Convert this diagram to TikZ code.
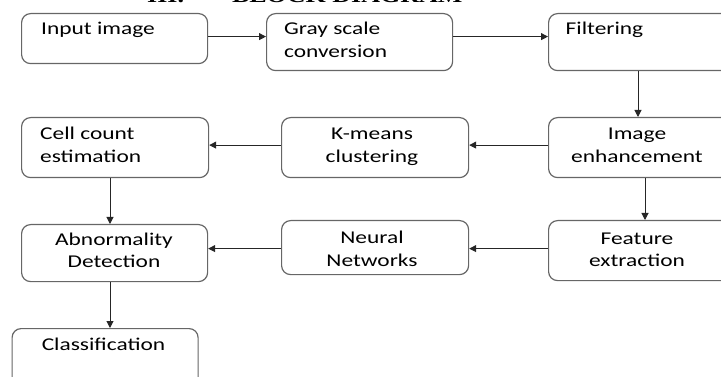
\documentclass[tikz,border=0pt]{standalone}
\usepackage{fontspec}
\setmainfont{Carlito}[FakeStretch=1.3]
\newfontfamily\headfont{Liberation Serif}[FakeStretch=1.3]
\usetikzlibrary{arrows.meta}

\begin{document}
\begin{tikzpicture}
  [x=1pt, y=-1pt,
  blk/.style={draw=black!60, line width=1.2pt, rounded corners=9pt, anchor=north west, inner sep=0pt},
  txt/.style={font=\fontsize{18}{22.5}\selectfont, inner sep=0pt},
  link/.style={black!85, line width=1pt, -{Triangle[length=7pt,width=7pt]}}]

  \useasboundingbox (0,0) rectangle (721,377);
  \clip (0,0) rectangle (721,377);

  % Heading, cut off at the top
  \node[font=\headfont\bfseries\fontsize{20}{24}\selectfont, anchor=base west, inner sep=0pt] (head) at (147,2.5) {III.\hspace{48pt}BLOCK DIAGRAM};

  % Blocks
  \node[blk, minimum width=186pt, minimum height=50pt] (inp) at (21,13) {};
  \node[blk, minimum width=186pt, minimum height=57pt] (gray) at (266,13) {};
  \node[blk, minimum width=230pt, minimum height=57pt] (filt) at (548,13) {};
  \node[blk, minimum width=187pt, minimum height=60pt] (cell) at (21,117) {};
  \node[blk, minimum width=187pt, minimum height=60pt] (kmeans) at (281,117) {};
  \node[blk, minimum width=230pt, minimum height=60pt] (enh) at (548,117) {};
  \node[blk, minimum width=186pt, minimum height=57pt] (abn) at (21,224) {};
  \node[blk, minimum width=187pt, minimum height=54pt] (neur) at (281,220) {};
  \node[blk, minimum width=230pt, minimum height=60pt] (feat) at (548,220) {};
  \node[blk, minimum width=186pt, minimum height=80pt] (cls) at (11.5,328) {};

  % Labels (base of two-line labels is the second line)
  \node[txt, anchor=base west] (inptxt) at (41,35) {Input image};
  \node[txt, anchor=base west, align=left] (graytxt) at (284,57.5) {Gray scale\\conversion};
  \node[txt, anchor=base west] (filttxt) at (565.5,35) {Filtering};
  \node[txt, anchor=base west, align=left] (celltxt) at (40,162.5) {Cell count\\estimation};
  \node[txt, anchor=base, align=center] (kmeanstxt) at (372,162.5) {K-means\\clustering};
  \node[txt, anchor=base, align=center] (enhtxt) at (637,162.5) {Image\\enhancement};
  \node[txt, anchor=base, align=center] (abntxt) at (114,267.5) {Abnormality\\Detection};
  \node[txt, anchor=base, align=center] (neurtxt) at (372,266) {Neural\\Networks};
  \node[txt, anchor=base, align=center] (feattxt) at (637,266.5) {Feature\\extraction};
  \node[txt, anchor=base] (clstxt) at (103.5,350) {Classification};

  % Connectors
  \draw[link] ([yshift=2pt]inp.east) -- ([yshift=2pt]inp.east -| gray.west);
  \draw[link] ([yshift=5.5pt]gray.east) -- ([yshift=5.5pt]gray.east -| filt.west);
  \draw[link] ([xshift=90pt]filt.south west) -- ([xshift=90pt]filt.south west |- enh.north);
  \draw[link] ([yshift=2.5pt]enh.west) -- ([yshift=2.5pt]enh.west -| kmeans.east);
  \draw[link] ([yshift=2.5pt]kmeans.west) -- ([yshift=2.5pt]kmeans.west -| cell.east);
  \draw[link] ([xshift=97pt]enh.south west) -- ([xshift=97pt]enh.south west |- feat.north);
  \draw[link] ([xshift=89pt]cell.south west) -- ([xshift=89pt]cell.south west |- abn.north);
  \draw[link] ([yshift=2pt]feat.west) -- ([yshift=2pt]feat.west -| neur.east);
  \draw[link] ([yshift=-1pt]neur.west) -- ([yshift=-1pt]neur.west -| abn.east);
  \draw[link] ([xshift=89pt]abn.south west) -- ([xshift=89pt]abn.south west |- cls.north);
\end{tikzpicture}
\end{document}
